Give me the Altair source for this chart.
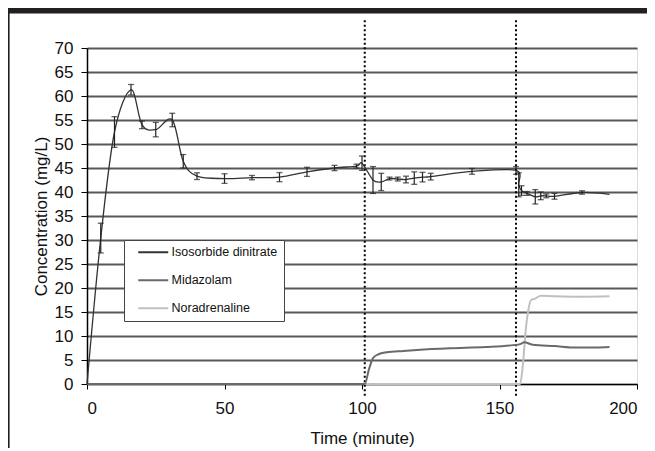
import altair as alt
import pandas as pd

# ---------------- data ----------------
iso_t = [0, 5, 10, 16, 20, 25, 31, 35, 40, 50, 60, 70, 80, 90, 98, 100,
         104, 107, 110, 113, 116, 119, 122, 125, 140, 156, 157, 158, 160,
         163, 165, 167, 170, 180, 190]
iso_v = [0, 30.4, 52.5, 61.3, 54.0, 53.0, 55.0, 46.4, 43.3, 42.8, 43.0, 43.1,
         44.2, 45.0, 45.4, 46.0, 42.5, 42.1, 42.8, 42.7, 42.6, 42.9, 43.1,
         43.2, 44.3, 44.5, 41.5, 40.3, 39.7, 39.0, 39.2, 39.2, 39.1, 39.9, 39.5]
iso_err = [0, 3.1, 3.2, 1.1, 0.8, 1.5, 1.4, 1.4, 0.7, 1.0, 0.45, 0.95, 0.95,
           0.55, 0.4, 1.5, 2.8, 1.8, 0.3, 0.4, 0.7, 1.3, 1.0, 0.7, 0.6, 0.8,
           2.5, 1.0, 0.4, 1.5, 0.8, 0.4, 0.6, 0.35, 0]

mid_t = [0, 101, 102.5, 104, 106, 109, 115, 120, 132, 145, 155, 157.5, 159,
         162, 170, 178, 185, 190]
mid_v = [0, 0, 3.0, 5.4, 6.2, 6.6, 6.9, 7.1, 7.45, 7.7, 8.1, 8.3, 8.7, 8.2,
         7.9, 7.6, 7.6, 7.7]

nor_t = [0, 157.5, 158.5, 159.5, 160.5, 161.5, 163, 165, 170, 180, 190]
nor_v = [0, 0, 4.0, 11.0, 15.5, 17.5, 17.8, 18.4, 18.3, 18.2, 18.3]

series_names = ["Isosorbide dinitrate", "Midazolam", "Noradrenaline"]
series_colors = ["#333333", "#6a6a6a", "#c0c0c0"]
series_widths = [1.3, 2.0, 2.0]
series_interp = ["cardinal", "monotone", "monotone"]

marker_times = [101, 156]
x_ticks = [0, 50, 100, 150, 200]
y_ticks = list(range(0, 71, 5))

FONT = "Liberation Sans"

# ---------------- tables ----------------
lines = pd.concat([
    pd.DataFrame({"t": iso_t, "v": iso_v, "series": series_names[0]}),
    pd.DataFrame({"t": mid_t, "v": mid_v, "series": series_names[1]}),
    pd.DataFrame({"t": nor_t, "v": nor_v, "series": series_names[2]}),
], ignore_index=True)

err = pd.DataFrame({"t": iso_t, "v": iso_v, "e": iso_err})
err = err[err["e"] > 0].copy()
err["lo"] = err["v"] - err["e"]
err["hi"] = err["v"] + err["e"]

markers = pd.DataFrame({"t": marker_times})
frame_top = pd.DataFrame({"x0": [-29.5], "x1": [205.0], "y0": [78.6], "y1": [77.2]})

xs = alt.Scale(domain=[0, 200], nice=False, zero=False)
ys = alt.Scale(domain=[0, 70], nice=False, zero=False)

x_axis = alt.Axis(values=x_ticks, title="Time (minute)", grid=False,
                  tickSize=5, tickColor="black", domainColor="black",
                  labelFontSize=17, labelPadding=11, titleFontSize=17,
                  titleFontWeight="normal", titlePadding=14,
                  labelColor="#111111", titleColor="#111111", labelFont=FONT,
                  titleFont=FONT, labelOverlap=False)
y_axis = alt.Axis(values=y_ticks, title="Concentration (mg/L)", grid=True,
                  gridColor="#585858", gridWidth=2, tickSize=6,
                  tickColor="black", domainColor="black", domainWidth=1.5,
                  labelFontSize=17, labelPadding=8, titleFontSize=17,
                  titleFontWeight="normal", titlePadding=4,
                  labelColor="#111111", titleColor="#111111", labelFont=FONT,
                  titleFont=FONT, labelOverlap=False)


def X(field):
    return alt.X(field, type="quantitative", scale=xs, axis=x_axis)


def Y(field):
    return alt.Y(field, type="quantitative", scale=ys, axis=y_axis)


def YD(v):
    return alt.Y(datum=v, type="quantitative", scale=ys, axis=y_axis)


color = alt.Color(
    "series:N",
    scale=alt.Scale(domain=series_names, range=series_colors),
    legend=alt.Legend(
        title=None, orient="none", legendX=37, legendY=192,
        fillColor="white", strokeColor="#444444", padding=6,
        symbolType="M-3,0H3", symbolSize=100, symbolOffset=17,
        symbolStrokeWidth=2, labelOffset=12, rowPadding=15,
        labelFontSize=12.5, labelFont=FONT, labelColor="#111111",
        cornerRadius=0,
    ),
)

# figure frame: dark band on top and a thin line on the left
top_bar = alt.Chart(frame_top).mark_rect(color="#231f20", opacity=1).encode(
    x=X("x0"), x2="x1:Q", y=Y("y0"), y2="y1:Q"
)
left_border = alt.Chart(frame_top).mark_rule(color="#231f20", strokeWidth=1.6).encode(
    x=alt.value(-78.2), y=alt.value(-35), y2=alt.value(400)
)

dotted = alt.Chart(markers).mark_rule(
    color="black", strokeWidth=2, strokeDash=[2, 2.5]
).encode(
    x=X("t"), y=YD(75.8), y2=alt.Y2(datum=-2.7)
)

line_layers = []
for name, w, ip in zip(series_names[::-1], series_widths[::-1], series_interp[::-1]):
    line_layers.append(
        alt.Chart(lines).transform_filter(alt.datum.series == name)
        .mark_line(interpolate=ip, strokeWidth=w)
        .encode(x=X("t"), y=Y("v"), color=color, order=alt.Order("t:Q"))
    )

err_rule = alt.Chart(err).mark_rule(color="#222222", strokeWidth=1.2).encode(
    x=X("t"), y=Y("lo"), y2="hi:Q"
)
cap_lo = alt.Chart(err).mark_tick(color="#222222", orient="horizontal",
                                  size=6, thickness=1.3).encode(
    x=X("t"), y=Y("lo")
)
cap_hi = alt.Chart(err).mark_tick(color="#222222", orient="horizontal",
                                  size=6, thickness=1.3).encode(
    x=X("t"), y=Y("hi")
)

chart = alt.layer(
    dotted, *line_layers, err_rule, cap_lo, cap_hi, top_bar, left_border
).properties(
    width=550, height=336,
    autosize=alt.AutoSizeParams(type="none"),
    padding={"left": 79, "top": 40, "right": 10, "bottom": 67},
).configure_view(stroke=None).configure(font=FONT)

chart.save("out.html", embed_options={"renderer": "svg", "actions": False})
